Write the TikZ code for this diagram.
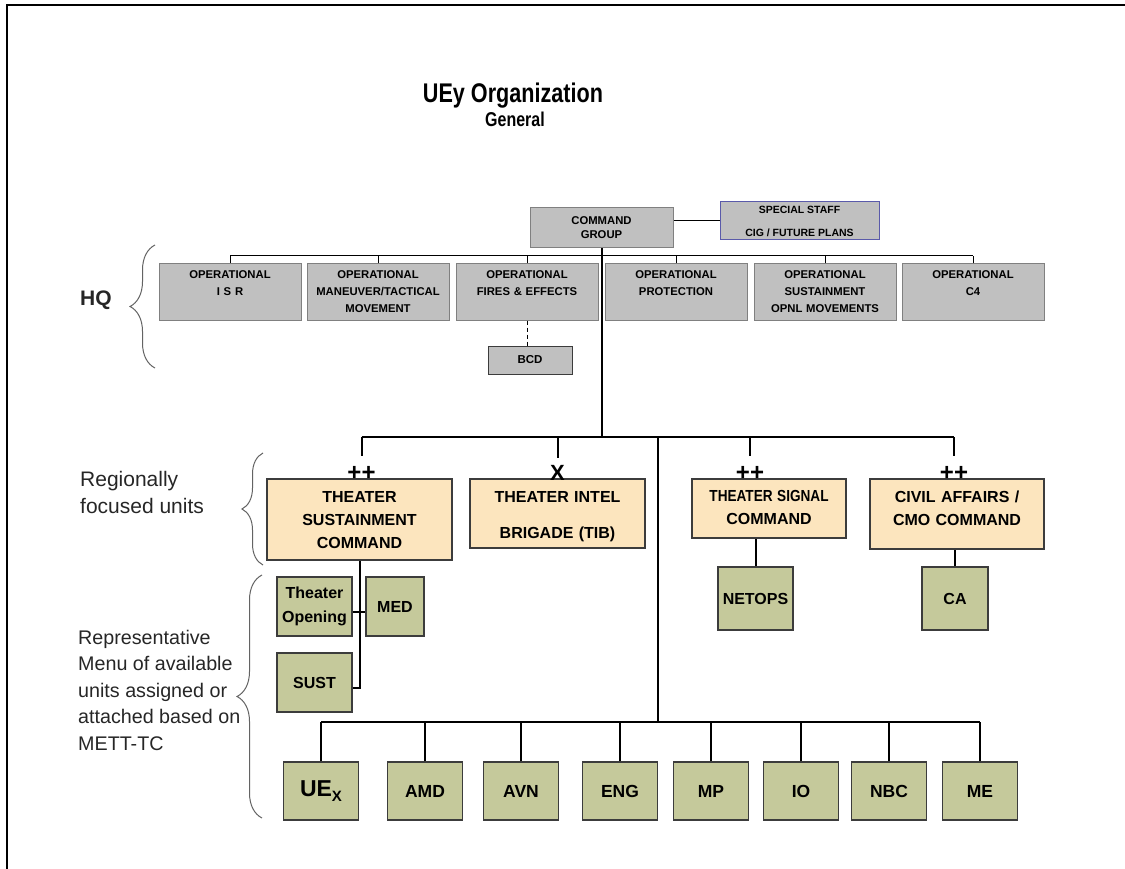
\documentclass[tikz,border=0pt]{standalone}
\usepackage{fontspec}
\setmainfont{Liberation Sans}
\usetikzlibrary{decorations.pathreplacing}
\definecolor{hqgrey}{RGB}{192,192,192}
\definecolor{hqedge}{RGB}{128,128,128}
\definecolor{staffedge}{RGB}{90,90,170}
\definecolor{peach}{RGB}{252,229,190}
\definecolor{olive}{RGB}{197,201,155}
\definecolor{edge}{RGB}{60,60,60}
\newcommand\myfs[2]{\fontsize{#1}{#2}\selectfont}
\tikzset{
  hqbox/.style={draw=hqedge, line width=1pt, fill=hqgrey, text width=138pt,
    inner xsep=2pt, inner ysep=0pt, align=center, text height=15pt, text depth=41pt,
    font=\myfs{11.3}{17}\bfseries},
  smallgrey/.style={draw=hqedge, line width=1pt, fill=hqgrey, inner sep=0pt,
    align=center, font=\myfs{11.3}{14}\bfseries},
  unitbox/.style={draw=edge, line width=1.3pt, fill=peach, inner xsep=2pt,
    inner ysep=0pt, align=center, font=\myfs{16}{23}\bfseries},
  menubox/.style={draw=edge, line width=1.5pt, fill=olive, inner sep=0pt,
    align=center, font=\myfs{16}{24}\bfseries},
  link/.style={line width=1pt},
  trunk/.style={line width=2pt},
  brace/.style={decorate, decoration={brace, amplitude=#1}, draw=edge!80, line width=1pt},
  echelon/.style={inner sep=0pt, anchor=south, yshift=-2pt, text depth=0pt,
    text height=24pt, font=\myfs{24}{24}\bfseries},
  sidelabel/.style={inner sep=0pt, anchor=west, align=left, text=black!85}
}
\begin{document}
\begin{tikzpicture}[x=1pt,y=-1pt]
\useasboundingbox (0,0) rectangle (1125,869);
% page frame
\coordinate (fbl) at (7,869);
\coordinate (ftl) at (7,5);
\coordinate (ftr) at (1125,5);
\draw[line width=2pt] (fbl) -- (ftl) -- (ftr);

% title
\node[anchor=base, inner sep=0pt, font=\myfs{27}{27}\bfseries] (title) at (513,103)
  {\scalebox{0.8}[1]{UEy Organization}};
\node[anchor=base, inner sep=0pt, font=\myfs{20}{20}\bfseries] (subtitle) at (515,127)
  {\scalebox{0.8}[1]{General}};

% command group and special staff
\node[smallgrey, minimum width=143pt, minimum height=40pt] (cg) at (601.5,228) {COMMAND\\GROUP};
\node[smallgrey, draw=staffedge, minimum width=159pt, minimum height=38pt,
      font=\myfs{10.5}{23}\bfseries] (ss) at (799.5,221) {SPECIAL STAFF\\CIG / FUTURE PLANS};

% HQ staff cells
\node[hqbox] (isr) at (230,292) {OPERATIONAL\\I S R};
\node[hqbox] (man) at (378,292) {OPERATIONAL\\MANEUVER/TACTICAL\\MOVEMENT};
\node[hqbox] (fir) at (527,292) {OPERATIONAL\\FIRES \& EFFECTS};
\node[hqbox] (pro) at (676,292) {OPERATIONAL\\PROTECTION};
\node[hqbox] (sus) at (825,292) {OPERATIONAL\\SUSTAINMENT\\OPNL MOVEMENTS};
\node[hqbox] (c4)  at (973,292) {OPERATIONAL\\C4};
\node[smallgrey, draw=edge, minimum width=84pt, minimum height=28pt,
      font=\myfs{11.5}{11.5}\bfseries] (bcd) at (530,360) {BCD};

% HQ connectors
\coordinate (hqbar) at (0,256);
\draw[link] (isr.north |- hqbar) -- (c4.north |- hqbar);
\foreach \b in {isr,man,fir,pro,sus,c4}
  \draw[link] (\b.north) -- (\b.north |- hqbar);
\draw[link] (ss.west) -- (ss.west -| cg.east);
\draw[link, dash pattern=on 4pt off 3pt] (fir.south) -- (fir.south |- bcd.north);

% regionally focused units
\node[unitbox, text width=181pt, text height=23pt, text depth=58pt] (tsc) at (359.5,519.5)
  {THEATER\\SUSTAINMENT\\COMMAND};
\node[unitbox, text width=171pt, text height=23pt, text depth=46pt] (tib) at (557.5,513.5)
  {THEATER INTEL\\[13pt]BRIGADE (TIB)};
\node[unitbox, text width=150pt, text height=22pt, text depth=37pt] (tsg) at (769,508.5)
  {\scalebox{0.85}[1]{THEATER SIGNAL}\\COMMAND};
\node[unitbox, text width=170pt, text height=23pt, text depth=47pt] (cac) at (957,514)
  {CIVIL AFFAIRS /\\CMO COMMAND};

\node[echelon] (tscE) at ([xshift=2pt]tsc.north) {++};
\node[echelon, text height=22pt, font=\myfs{22}{22}\bfseries] (tibE) at (tib.north) {X};
\node[echelon] (tsgE) at ([xshift=-19pt]tsg.north) {++};
\node[echelon] (cacE) at ([xshift=-3pt]cac.north) {++};

\coordinate (regbar) at (0,437);
\draw[trunk] (cg.south) -- (cg.south |- regbar);
\draw[trunk] (tscE.north |- regbar) -- (cacE.north |- regbar);
\foreach \e in {tscE,tibE,tsgE,cacE}
  \draw[trunk] (\e.north |- regbar) -- (\e.north);

% menu of available units
\node[menubox, minimum width=75pt, minimum height=59pt] (to)   at (314.5,606.5) {Theater\\Opening};
\node[menubox, minimum width=58pt, minimum height=59pt] (med)  at (395,606.5) {MED};
\node[menubox, minimum width=75pt, minimum height=59pt] (sust) at (314.5,682.5) {SUST};
\node[menubox, minimum width=75pt, minimum height=63pt] (netops) at (755.5,598.5) {NETOPS};
\node[menubox, minimum width=66pt, minimum height=63pt] (ca) at (955,598.5) {CA};

\coordinate (sustin) at ([yshift=-5.5pt]sust.east);
\coordinate (tojoin) at ([yshift=-5.5pt]to.east);
\draw[trunk] (tsc.south) -- (tsc.south |- sustin) -- (sustin);
\draw[trunk] (tojoin) -- (tojoin -| med.west);
\draw[trunk] (netops.north) -- (netops.north |- tsg.south);
\draw[trunk] (ca.north) -- (ca.north |- cac.south);

\begin{scope}[every node/.style={menubox, minimum width=75pt, minimum height=58pt, font=\myfs{17.5}{17.5}\bfseries}]
\node (uex) at (321,791) {\myfs{23}{23}UE\raisebox{-5pt}{\myfs{15}{15}X}};
\node (amd) at (425,791) {AMD};
\node (avn) at (521,791) {AVN};
\node (eng) at (620,791) {ENG};
\node (mp)  at (711,791) {MP};
\node (io)  at (801,791) {IO};
\node (nbc) at (889,791) {NBC};
\node (me)  at (980,791) {ME};
\end{scope}

\coordinate (split) at (658,437);
\coordinate (menubar) at (0,722);
\draw[trunk] (split) -- (split |- menubar);
\draw[trunk] (uex.north |- menubar) -- (me.north |- menubar);
\foreach \u in {uex,amd,avn,eng,mp,io,nbc,me}
  \draw[trunk] (\u.north) -- (\u.north |- menubar);

% braces and their labels
\coordinate (hqTop) at (155,245);
\coordinate (hqBot) at (155,368);
\coordinate (regTop) at (263,453);
\coordinate (regBot) at (263,565);
\coordinate (menuTop) at (262,575);
\coordinate (menuBot) at (262,818);
\draw[brace=25pt] (hqBot) -- (hqTop);
\draw[brace=21pt] (regBot) -- (regTop);
\draw[brace=25pt] (menuBot) -- (menuTop);

\node[sidelabel, font=\myfs{21}{21}\bfseries] (hqlab) at (80,300) {HQ};
\node[sidelabel, font=\myfs{21}{27}] (reglab) at (80,492) {Regionally\\focused units};
\node[sidelabel, font=\myfs{19.7}{26.5}] (menulab) at (78,690)
  {Representative\\Menu of available\\units assigned or\\attached based on\\METT-TC};
\end{tikzpicture}
\end{document}
